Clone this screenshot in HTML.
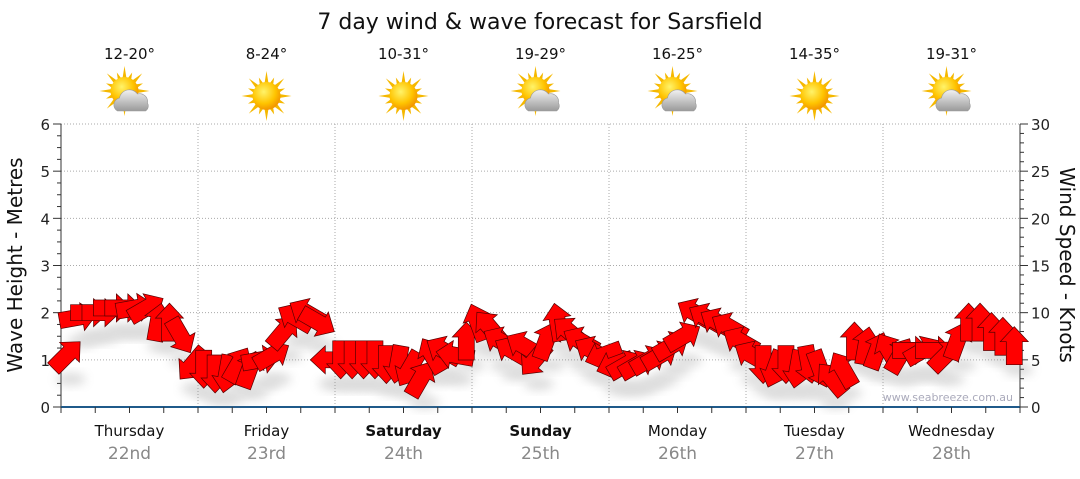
<!DOCTYPE html>
<html><head><meta charset="utf-8"><style>
body{margin:0;background:#fff;width:1080px;height:475px;overflow:hidden;font-family:"DejaVu Sans","Liberation Sans",sans-serif}
</style></head><body>
<svg id="c" width="1080" height="475" xmlns="http://www.w3.org/2000/svg">
<defs>
<radialGradient id="sun" cx="0.4" cy="0.35" r="0.7"><stop offset="0" stop-color="#fff36a"/><stop offset="0.6" stop-color="#ffc400"/><stop offset="1" stop-color="#f08c00"/></radialGradient>
<linearGradient id="cloud" x1="0" y1="0" x2="0" y2="1"><stop offset="0" stop-color="#f2f2f2"/><stop offset="1" stop-color="#9a9a9a"/></linearGradient>
<filter id="sh" x="-50%" y="-50%" width="200%" height="200%"><feGaussianBlur stdDeviation="5"/></filter>
</defs>
</svg>
<script>
const days=["Thursday","Friday","Saturday","Sunday","Monday","Tuesday","Wednesday"];
const dates=["22nd","23rd","24th","25th","26th","27th","28th"];
const temps=["12-20°","8-24°","10-31°","19-29°","16-25°","14-35°","19-31°"];
const cloudy=[1,0,0,1,1,0,1];
const waveTicks=[0,1,2,3,4,5,6];
const windTicks=[0,5,10,15,20,25,30];
const windSpeed=[5.5,9.5,10,10,10.5,10.5,10.5,10.5,9,9,7.5,4.5,
 4,3.5,3.5,4.5,4,5,5.5,8,9.5,10,9,5,
 5,5,5,5,4.5,4.5,4,3,5.5,6,5.5,7,
 9,8.5,7,6,6.5,5,7,9,8,7,6,5.5,
 4.5,4.5,4.5,5,5.5,6.5,7.5,10,9.5,9,8.5,7,
 5.5,4.5,4,4.5,4,4.5,4,3,4,7,6.5,6,
 6,5.5,6,6,6,5.5,7,9,9,8,7.5,6.5];
const windDir=[45,80,90,90,90,90,80,60,10,0,150,220,
 180,180,190,30,20,80,60,40,300,300,120,270,
 180,180,180,180,180,190,210,30,330,300,280,0,
 340,320,300,300,300,220,20,350,310,300,300,250,
 250,60,60,60,60,60,60,300,300,300,300,300,
 300,180,200,180,190,170,160,320,330,0,10,20,
 330,30,90,60,90,45,20,0,0,0,0,0];
const S="http://www.w3.org/2000/svg",svg=document.getElementById('c');
function el(t,a,p){const e=document.createElementNS(S,t);for(const k in a)e.setAttribute(k,a[k]);(p||svg).appendChild(e);return e;}
const X0=61,X1=1020,Y0=407,Y1=124,DW=(X1-X0)/7;
const yWave=v=>Y0-(Y0-Y1)*v/6, yWind=v=>Y0-(Y0-Y1)*v/30, xT=h=>X0+DW*h/24;
let t=el('text',{x:540,y:29,'text-anchor':'middle','font-size':22,fill:'#111'});t.textContent='7 day wind & wave forecast for Sarsfield';

for(const v of waveTicks){if(v>0){const g=el('line',{x1:X0,x2:X1,y1:yWave(v),y2:yWave(v),stroke:'#aaa','stroke-dasharray':'1,2'});}}
for(let d=1;d<7;d++){const g=el('line',{x1:X0+d*DW,x2:X0+d*DW,y1:Y1,y2:Y0,stroke:'#aaa','stroke-dasharray':'1,2'});}
el('line',{x1:X0,x2:X0,y1:Y1,y2:Y0,stroke:'#333'});el('line',{x1:X1,x2:X1,y1:Y1,y2:Y0,stroke:'#333'});
let ax=el('line',{x1:X0,x2:X1,y1:Y0,y2:Y0,stroke:'#1f5a8a','stroke-width':2});
for(let v=0;v<=6;v+=0.25){const y=yWave(v);el('line',{x1:X0-(v%1?4:8),x2:X0,y1:y,y2:y,stroke:'#333'});}
for(let v=0;v<=30;v++){const y=yWind(v);el('line',{x1:X1,x2:X1+(v%5?4:8),y1:y,y2:y,stroke:'#333'});}
for(let h=0;h<=168;h+=6){el('line',{x1:xT(h),x2:xT(h),y1:Y0,y2:Y0+6,stroke:'#333'});}
for(const v of waveTicks){const e=el('text',{x:50,y:yWave(v)+6,'text-anchor':'end','font-size':15,fill:'#222'});e.textContent=v;}
for(const v of windTicks){const e=el('text',{x:1031,y:yWind(v)+6,'font-size':15,fill:'#222'});e.textContent=v;}
let yl=el('text',{x:0,y:0,transform:'translate(22,265) rotate(-90)','text-anchor':'middle','font-size':20,fill:'#111'});yl.textContent='Wave Height - Metres';
let yr=el('text',{x:0,y:0,transform:'translate(1060,265) rotate(90)','text-anchor':'middle','font-size':20,fill:'#111'});yr.textContent='Wind Speed - Knots';
days.forEach((d,i)=>{const cx=X0+(i+0.5)*DW;const we=i==2||i==3;
const a=el('text',{x:cx,y:436,'text-anchor':'middle','font-size':15,fill:'#111','font-weight':we?'bold':'normal'});a.textContent=d;
const b=el('text',{x:cx,y:459,'text-anchor':'middle','font-size':17,fill:'#888'});b.textContent=dates[i];
const tt=el('text',{x:cx,y:59,'text-anchor':'middle','font-size':15,fill:'#111'});tt.textContent=temps[i];
const g=el('g',{transform:`translate(${cx},96)`});
const sx=cloudy[i]?-5:0,sy=cloudy[i]?-5:0;
for(let k=0;k<16;k++){const ang=k*Math.PI/8,r1=12,r2=k%2?20:25;el('polygon',{points:`${sx+Math.cos(ang-0.18)*r1},${sy+Math.sin(ang-0.18)*r1} ${sx+Math.cos(ang)*r2},${sy+Math.sin(ang)*r2} ${sx+Math.cos(ang+0.18)*r1},${sy+Math.sin(ang+0.18)*r1}`,fill:'#f5b800'},g);}
el('circle',{cx:sx,cy:sy,r:14,fill:'url(#sun)'},g);
if(cloudy[i]){el('path',{d:'M-12,15 a7,7 0 0 1 2,-13 a10,10 0 0 1 18,-4 a8,8 0 0 1 10,9 a6,6 0 0 1 -2,8 z',fill:'url(#cloud)',stroke:'#999','stroke-width':0.6},g);}
});
const shg=el('g',{opacity:0.3});
const ag=el('g',{});
const step=168/windSpeed.length;
windSpeed.forEach((s,i)=>{const x=xT(i*step+step/2),y=yWind(s);
el('ellipse',{cx:x+4,cy:y+24,rx:15,ry:6,fill:'#888',filter:'url(#sh)'},shg);
const p=el('polygon',{points:'-8,19 8,19 8,-4 14,-4 0,-19 -14,-4 -8,-4',fill:'#f00',stroke:'#500','stroke-width':0.7,transform:`translate(${x},${y}) rotate(${windDir[i]})`},ag);
});
let wm=el('text',{x:1013,y:401,'text-anchor':'end','font-size':11,fill:'#aab'});wm.textContent='www.seabreeze.com.au';
</script>
</body></html>
